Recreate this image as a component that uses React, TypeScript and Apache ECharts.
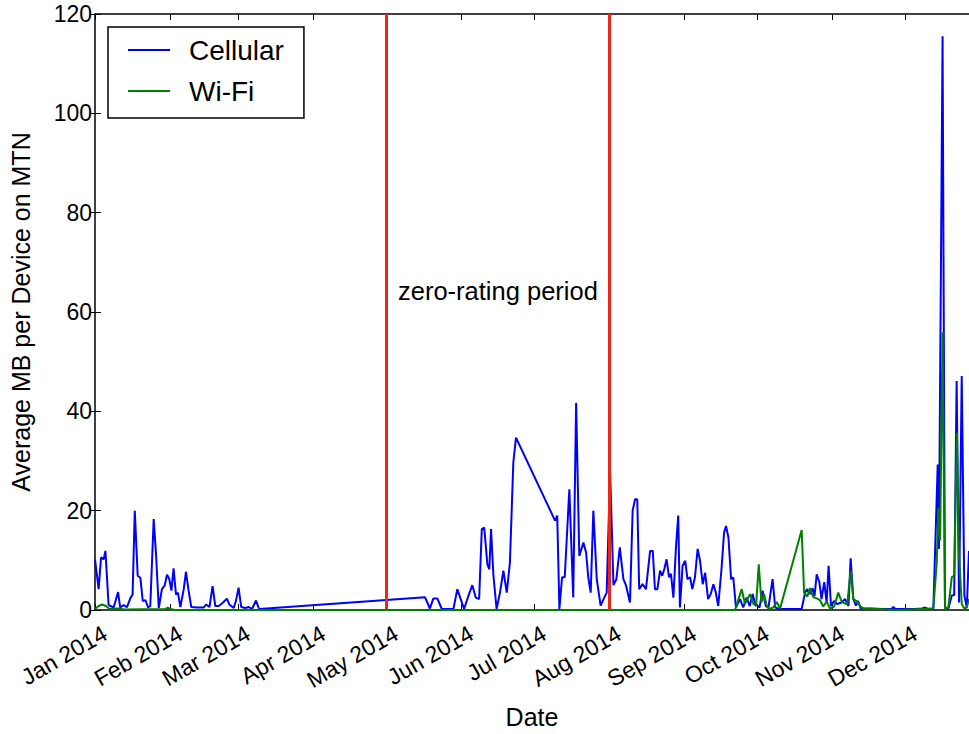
import React, { useEffect, useRef } from "react";
import * as echarts from "echarts";

// Month tick positions (days since 1 Jan 2014) and labels
const monthStartDay = [0, 31, 59, 90, 120, 151, 181, 212, 243, 273, 304, 334];
const monthLabels = [
  "Jan 2014", "Feb 2014", "Mar 2014", "Apr 2014", "May 2014", "Jun 2014",
  "Jul 2014", "Aug 2014", "Sep 2014", "Oct 2014", "Nov 2014", "Dec 2014",
];
const yTicks = [0, 20, 40, 60, 80, 100, 120];

// zero-rating period boundaries (days since 1 Jan 2014)
const zeroRatingStartDay = 120;
const zeroRatingEndDay = 212;
const axisEndDay = 360.4;

// Cellular: days since 1 Jan 2014 and average MB per device
const cellularDay = [
  0, 1.5, 2.5, 3.6, 4.3, 5.6, 7.7, 9.5, 10.4, 11.8, 13.2, 14.6, 15.5, 16.4, 17.6, 18.7, 19.7, 20.8, 21.9, 22.8,
  24.2, 25.2, 26.3, 27.6, 28.7, 29.7, 30.6, 31.5, 32.4, 33.4, 34.2, 35.2, 36.6, 37.5, 38.6, 39.7, 42.1, 44.8, 45.8, 47.2,
  48.5, 49.6, 51, 52.6, 54.4, 55.4, 57.2, 58.2, 59.2, 60.3, 62, 63.4, 64.7, 66.4, 67.5, 67.8,
  136.1, 138.1, 139.5, 141.2, 143, 147.8, 149.4, 150.8, 152.2, 154, 155.6, 157, 158.4, 159.5, 160.5, 161.8, 162.6, 163.3, 164.3, 165.6,
  167, 168.4, 169.8, 171.1, 172.5, 173.6, 189.7, 190.6, 191.5, 192.6, 193.7, 195.6, 197.2, 198.4, 199.7, 201.4, 202.5, 203.4, 204.4, 205.5,
  206.9, 208.5, 210, 211, 212.4, 213.8, 215, 216.4, 217.9, 219, 220.6, 221.7, 222.7, 223.6, 224.4, 225.8, 227.2, 228.9, 230, 230.9,
  231.9, 233, 233.9, 234.8, 235.7, 236.7, 237.5, 238.5, 239.6, 240.5, 241.2, 242.3, 243.4, 244.3, 245.4, 246.3, 247.4, 248.5, 249.5, 250.6,
  251.6, 252.8, 253.9, 255, 256, 257, 258.4, 259.4, 260.2, 261.2, 262.3, 263.2, 264.3, 266, 267.3, 268.7, 270, 271.2, 272.2, 274,
  275.3, 276.6, 277.7, 279.4, 280.5, 282.2, 291.4, 292.8, 293.7, 294.8, 295.9, 296.7, 297.6, 298.7, 299.6, 300.7, 301.7, 302.5, 303.5, 304.7,
  306, 307.9, 309.3, 310.7, 311.6, 312.7, 313.8, 314.7, 315.7, 320, 325, 328.5, 329.2, 330, 338, 341, 342.3, 343.5, 345.7, 347.5,
  348, 349.5, 350.5, 351.9, 353.3, 354.3, 355.3, 356.3, 357.4, 358.5, 359.5, 360.4,
];
const cellularMB = [
  10.2, 4.2, 10.6, 10.2, 11.9, 1.0, 0.5, 3.6, 0.5, 1.0, 0.6, 2.4, 3.1, 20, 6.9, 6.5, 1.8, 2.0, 0.5, 0.8,
  18.3, 10.9, 0.4, 4.2, 4.9, 7.1, 6.3, 3.9, 8.4, 3.1, 3.5, 0.6, 4.2, 7.7, 3.9, 0.6, 0.5, 0.5, 1.1, 0.6,
  4.8, 0.8, 0.8, 1.4, 2.3, 1.1, 0.4, 2.0, 4.5, 0.6, 0.4, 0.6, 0.2, 1.9, 0.4, 0.2,
  2.55, 0.3, 2.3, 2.3, 0.2, 0.2, 4.2, 2.2, 0.2, 2.9, 5.0, 2.5, 2.2, 16.3, 16.6, 9.2, 8.2, 16.3, 6.9, 0.2,
  3.5, 7.9, 3.5, 9.6, 29.7, 34.7, 18, 19, 0.2, 6.6, 6.6, 24.3, 2.5, 41.7, 10.9, 13.6, 11.6, 6.6, 3.5, 20,
  6.2, 0.9, 2.5, 3.5, 28, 5.0, 6.2, 12.6, 6.2, 4.9, 1.5, 20, 22.3, 22.3, 4.2, 5.2, 4.2, 11.9, 11.9, 4.2,
  4.2, 7.9, 6.9, 8.3, 10.2, 6.6, 7.3, 2.5, 12.9, 19, 0.5, 8.9, 9.9, 6.2, 6.6, 4.2, 6.6, 12.3, 9.9, 5.2,
  7.5, 2.2, 3.2, 5.2, 3.5, 0.8, 8.6, 15.6, 16.9, 14.6, 6.2, 6.6, 0.5, 2.2, 0.5, 2.5, 0.8, 3.2, 1.2, 0.5,
  3.9, 0.8, 0.5, 6.2, 0.5, 0.2, 0.2, 3.5, 4.2, 3.2, 4.4, 2.8, 7.2, 5.6, 2.2, 5.6, 1.5, 8.9, 0.8, 1.8,
  1.2, 1.5, 2.2, 0.8, 10.4, 2.2, 0.9, 1.8, 0.3, 0.3, 0.2, 0.2, 0.6, 0.2, 0.2, 0.3, 0.5, 0.2, 0.3, 29.3,
  12.3, 115.5, 0.5, 0.3, 2.9, 3.0, 46.1, 1.5, 47.1, 2.9, 0.5, 11.9,
];

// Wi-Fi: days since 1 Jan 2014 and average MB per device
const wifiDay = [
  0, 1.5, 3, 4.5, 6, 10, 12, 29, 30, 31, 33, 263.9,
  266.7, 268, 270.1, 271.5, 272.6, 273.7, 274.8, 275.9, 277, 278.1, 279.7, 281.1, 282.5, 291.4, 292.4, 293.7, 294.8, 296.2,
  297.8, 298.9, 300.3, 301.7, 303.1, 304.8, 306.5, 307.9, 309.3, 310.2, 311.6, 312.7, 314.1, 315.5, 316.8, 322, 329, 332,
  345.7, 347.1, 347.8, 348.5, 349.5, 350.5, 351.9, 353.3, 354.3, 355.4, 356.2, 357.4, 358.5, 359.5, 360.4,
];
const wifiMB = [
  0.2, 0.8, 1.1, 0.8, 0.2, 0.3, 0.1, 0.2, 0.5, 0.2, 0, 0,
  4.2, 1.2, 3.2, 1.2, 0.8, 9.2, 1.5, 3.2, 0.8, 0.2, 0.5, 1.6, 0.3, 16.1, 3.5, 2.7, 4.4, 2.6,
  2.3, 2.0, 0.7, 1.7, 0.3, 0.7, 3.5, 1.7, 1.3, 1.2, 7.9, 2.2, 1.8, 0.8, 0.3, 0.2, 0.05, 0,
  0.3, 9.6, 20.6, 14, 55.9, 0.3, 0.5, 6.6, 6.9, 35.7, 12, 1.2, 0.3, 0.5, 2.2,
];

const FONT = "Liberation Sans, Arial, Helvetica, sans-serif";

export default function App() {
  const ref = useRef<HTMLDivElement>(null);

  useEffect(() => {
    if (!ref.current) return;
    const chart = echarts.init(ref.current, undefined, { renderer: "svg" });
    const labelFor = (v: number) => {
      const i = monthStartDay.findIndex((d) => Math.abs(d - v) < 0.5);
      return i >= 0 ? monthLabels[i] : "";
    };
    const cellular = cellularDay.map((d, i) => [d, cellularMB[i]]);
    const wifi = wifiDay.map((d, i) => [d, wifiMB[i]]);

    chart.setOption({
      animation: false,
      backgroundColor: "#ffffff",
      textStyle: { fontFamily: FONT },
      grid: { left: 95, right: 0, top: 14, bottom: 123 },
      legend: {
        data: ["Cellular", "Wi-Fi"],
        orient: "vertical",
        left: 108,
        top: 27,
        icon: "rect",
        itemWidth: 42,
        itemHeight: 2,
        itemGap: 13,
        padding: [9, 20, 13, 20],
        borderColor: "#000",
        borderWidth: 1.5,
        backgroundColor: "#fff",
        textStyle: { fontSize: 28, lineHeight: 28, color: "#000", fontFamily: FONT, padding: [0, 0, 0, 14] },
      },
      xAxis: [
        {
          type: "value",
          position: "bottom",
          min: 0,
          max: axisEndDay,
          axisLine: { show: true, onZero: false, lineStyle: { color: "#000", width: 1.5 } },
          axisTick: { show: true, inside: true, length: 6, customValues: monthStartDay, lineStyle: { color: "#000" } },
          axisLabel: {
            customValues: monthStartDay,
            rotate: 30,
            fontSize: 23,
            color: "#000",
            fontFamily: FONT,
            margin: 14,
            verticalAlign: "top",
            padding: [0, -5, 0, 0],
            formatter: (v: number) => labelFor(v),
          },
          splitLine: { show: false },
          name: "Date",
          nameLocation: "middle",
          nameGap: 94,
          nameTextStyle: { fontSize: 25, color: "#000", fontFamily: FONT },
        },
        {
          type: "value",
          position: "top",
          min: 0,
          max: axisEndDay,
          axisLine: { show: true, onZero: false, lineStyle: { color: "#000", width: 1.5 } },
          axisTick: { show: true, inside: true, length: 6, customValues: monthStartDay, lineStyle: { color: "#000" } },
          axisLabel: { show: false },
          splitLine: { show: false },
        },
      ],
      yAxis: [
        {
          type: "value",
          min: yTicks[0],
          max: yTicks[yTicks.length - 1],
          interval: 20,
          position: "left",
          axisLine: { show: true, onZero: false, lineStyle: { color: "#000", width: 1.5 } },
          axisTick: { show: true, inside: true, length: 6, lineStyle: { color: "#000" } },
          axisLabel: { fontSize: 23, color: "#000", fontFamily: FONT, margin: 3 },
          splitLine: { show: false },
          name: "Average MB per Device on MTN",
          nameLocation: "middle",
          nameRotate: 90,
          nameGap: 62,
          nameTextStyle: { fontSize: 25, color: "#000", fontFamily: FONT },
        },
        {
          type: "value",
          min: yTicks[0],
          max: yTicks[yTicks.length - 1],
          interval: 20,
          position: "right",
          axisLine: { show: false },
          axisTick: { show: true, inside: true, length: 5, lineStyle: { color: "#000" } },
          axisLabel: { show: false },
          splitLine: { show: false },
        },
      ],
      series: [
        {
          name: "Cellular",
          type: "line",
          data: cellular,
          showSymbol: false,
          symbol: "none",
          lineStyle: { color: "#0000ff", width: 2 },
          itemStyle: { color: "#0000ff" },
          z: 2,
        },
        {
          name: "Wi-Fi",
          type: "line",
          data: wifi,
          showSymbol: false,
          symbol: "none",
          lineStyle: { color: "#008000", width: 2 },
          itemStyle: { color: "#008000" },
          z: 3,
          markLine: {
            silent: true,
            symbol: ["none", "none"],
            label: { show: false },
            lineStyle: { color: "#e8261a", width: 3, type: "solid" },
            data: [{ xAxis: zeroRatingStartDay }, { xAxis: zeroRatingEndDay }],
          },
        },
      ],
      graphic: [
        {
          type: "text",
          left: 398,
          top: 278,
          style: { text: "zero-rating period", fontSize: 25.5, fill: "#000", fontFamily: FONT },
        },
      ],
    });
    return () => chart.dispose();
  }, []);

  return (
    <div
      ref={ref}
      style={{ position: "fixed", left: 0, top: 0, width: 969, height: 734, background: "#fff" }}
    />
  );
}
